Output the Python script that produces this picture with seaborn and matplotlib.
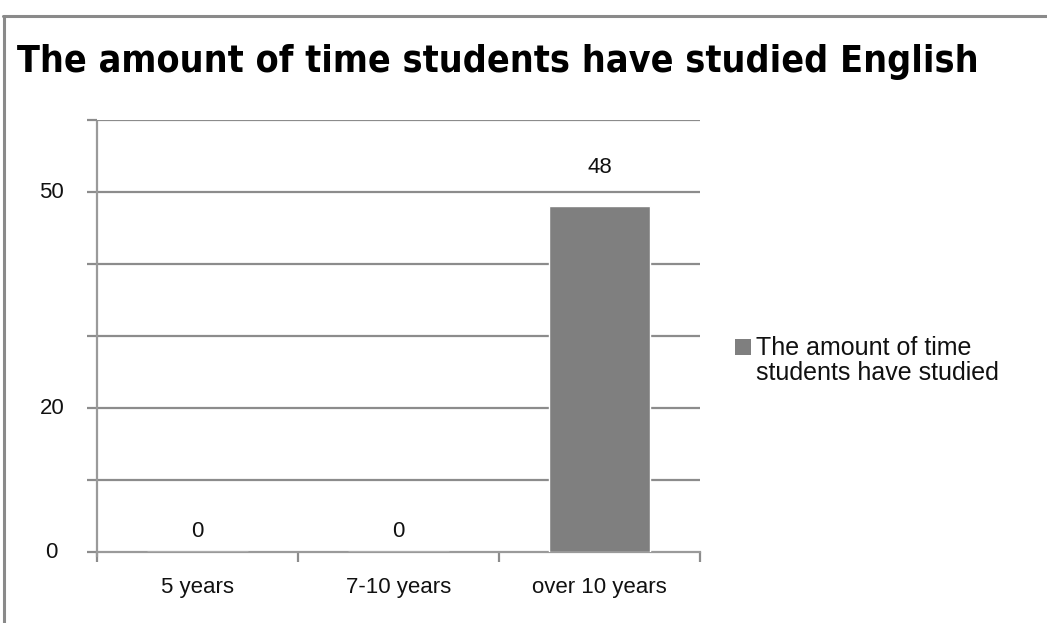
import matplotlib
matplotlib.use("Agg")
import matplotlib.pyplot as plt
from matplotlib.lines import Line2D
from matplotlib.patches import Patch
import seaborn as sns
import pandas as pd

categories = ["5 years", "7-10 years", "over 10 years"]
values = [0, 0, 48]
series_name = "The amount of time\nstudents have studied"
title = "The amount of time students have studied English"
ytick_values = [0, 10, 20, 30, 40, 50, 60]
ytick_labels = {0: "0", 20: "20", 50: "50"}

sns.set_theme(style="white")
plt.rcParams["font.family"] = ["Liberation Sans", "DejaVu Sans"]

df = pd.DataFrame({"period": categories, "count": values})

fig = plt.figure(figsize=(10.47, 6.23), dpi=100)
ax = fig.add_axes([97 / 1047, 71 / 623, 603 / 1047, 432 / 623])

grey = "#7f7f7f"
sns.barplot(data=df, x="period", y="count", color=grey, saturation=1,
            width=0.5, ax=ax, zorder=3)

ax.set_xlim(-0.5, len(categories) - 0.5)
ax.set_ylim(0, 60)
ax.set_xlabel("")
ax.set_ylabel("")

# horizontal gridlines
for v in ytick_values[1:]:
    ax.axhline(v, color="#8c8c8c", lw=1.6, zorder=1)

for s in ["top", "right"]:
    ax.spines[s].set_visible(False)
ax.spines["left"].set_color("#9a9a9a")
ax.spines["left"].set_linewidth(1.6)
ax.spines["left"].set_bounds(-0.6, 59.7)
ax.spines["bottom"].set_color("#9a9a9a")
ax.spines["bottom"].set_linewidth(1.6)

ax.set_yticks(ytick_values)
ax.set_yticklabels([])
ax.tick_params(axis="y", left=True, length=7, width=1.6, color="#8c8c8c")
ytrans = ax.get_yaxis_transform()
for v, lab in ytick_labels.items():
    ax.text(-0.075, v, lab, transform=ytrans, ha="center", va="center",
            fontsize=16, color="#111111")

# category boundary ticks on the x axis
ax.set_xticks([i - 0.5 for i in range(len(categories) + 1)], minor=False)
ax.set_xticklabels([])
ax.tick_params(axis="x", bottom=True, length=7, width=1.6, color="#8c8c8c",
               direction="out")
for i, c in enumerate(categories):
    ax.annotate(c, xy=(i, 0), xycoords=("data", "axes fraction"),
                xytext=(0, -25), textcoords="offset pixels",
                ha="center", va="top", fontsize=16, color="#111111")

# value labels above each bar
for i, v in enumerate(values):
    pad = 15 if v == 0 else 33
    ax.annotate(f"{v}", xy=(i, v), xytext=(0, pad), textcoords="offset pixels",
                ha="center", va="baseline", fontsize=16, color="#111111")

handle = Patch(facecolor=grey, edgecolor="none")
leg = fig.legend([handle], [series_name], loc="upper left",
                 bbox_to_anchor=(735 / 1047, 1 - 336 / 623), frameon=False,
                 fontsize=18, handlelength=0.62, handleheight=0.62,
                 handletextpad=0.2, borderaxespad=0, borderpad=0)
for t in leg.get_texts():
    t.set_linespacing(1.05)
    t.set_color("#111111")
# keep the swatch level with the first line of the label
for h in leg.legend_handles:
    h.set_y(h.get_y() + 10)

fig.text(17 / 1047, 1 - 62 / 623, title, ha="left", va="center",
         fontsize=27, fontweight="bold", family=["DejaVu Sans"],
         fontstretch="condensed", color="black")

# outer chart frame
fig.add_artist(Line2D([3 / 1047, 1], [1 - 16 / 623, 1 - 16 / 623],
                      transform=fig.transFigure, color="#8a8a8a", lw=2.2))
fig.add_artist(Line2D([4 / 1047, 4 / 1047], [0, 1 - 16 / 623],
                      transform=fig.transFigure, color="#8a8a8a", lw=2.2))

fig.savefig("out.png", dpi=100)
